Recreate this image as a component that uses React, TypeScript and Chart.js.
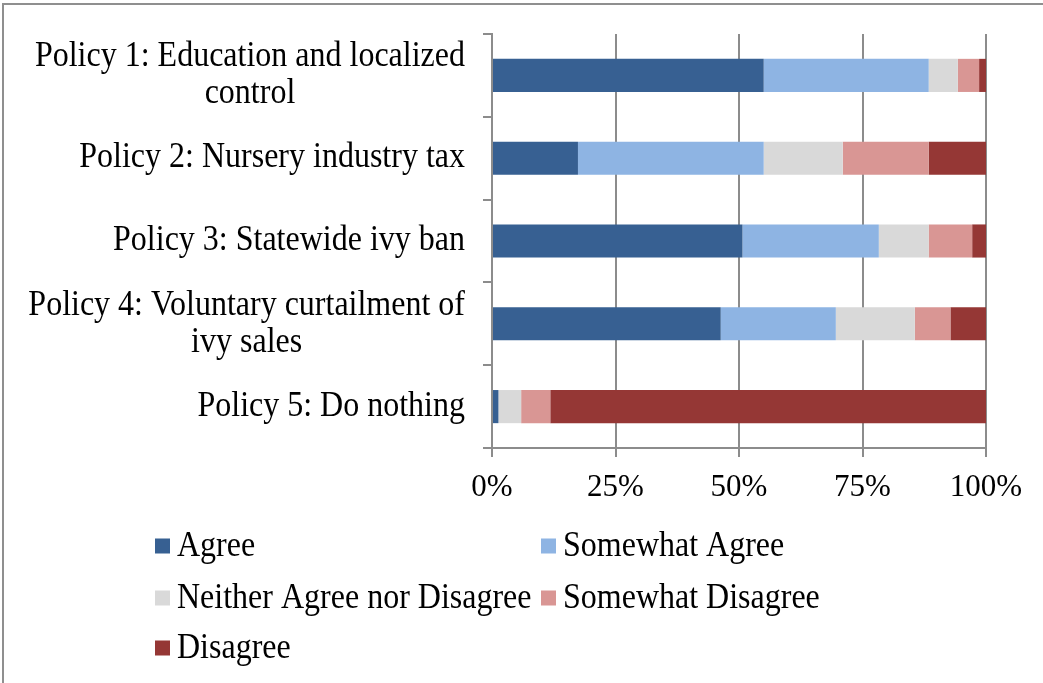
import React, { useEffect, useRef } from "react";
import { Chart, registerables } from "chart.js";

Chart.register(...registerables);

const categories: string[][] = [
  ["Policy 1: Education and localized", "control"],
  ["Policy 2: Nursery industry tax"],
  ["Policy 3: Statewide ivy ban"],
  ["Policy 4: Voluntary curtailment of", "ivy sales"],
  ["Policy 5: Do nothing"],
];
const seriesNames = [
  "Agree",
  "Somewhat Agree",
  "Neither Agree nor Disagree",
  "Somewhat Disagree",
  "Disagree",
];
const agree = [55.0, 17.4, 50.7, 46.3, 1.3];
const somewhatAgree = [33.4, 37.6, 27.6, 23.3, 0];
const neither = [5.9, 16.0, 10.1, 16.0, 4.6];
const somewhatDisagree = [4.3, 17.4, 8.8, 7.2, 5.9];
const disagree = [1.4, 11.6, 2.8, 7.2, 88.2];
const xTicks = [0, 25, 50, 75, 100];

const colors = ["#376092", "#8EB4E3", "#D9D9D9", "#D99694", "#953735"];
const FONT = '"Liberation Serif", "Times New Roman", serif';
const GRID = "#8c8c8c";
const STRETCH = 1.1;

function stretchedText(ctx: CanvasRenderingContext2D, text: string, x: number, y: number) {
  ctx.save();
  ctx.translate(x, y);
  ctx.scale(1, STRETCH);
  ctx.fillText(text, 0, 0);
  ctx.restore();
}

export default function App() {
  const ref = useRef<HTMLCanvasElement | null>(null);

  useEffect(() => {
    if (!ref.current) return;
    const seriesValues = [agree, somewhatAgree, neither, somewhatDisagree, disagree];

    const labelPlugin = {
      id: "customLabels",
      afterDraw(chart: any) {
        const ctx = chart.ctx as CanvasRenderingContext2D;
        const yScale = chart.scales.y;
        // frame
        ctx.save();
        ctx.strokeStyle = "#8f8f8f";
        ctx.lineWidth = 2;
        ctx.beginPath();
        ctx.moveTo(3, 700);
        ctx.lineTo(3, 4);
        ctx.lineTo(1100, 4);
        ctx.stroke();
        // category labels
        ctx.fillStyle = "#000";
        ctx.font = `32px ${FONT}`;
        ctx.textBaseline = "middle";
        ctx.textAlign = "center";
        const rightX = chart.chartArea.left - 27;
        const lh = 37;
        categories.forEach((lines, i) => {
          const cy = yScale.getPixelForValue(i);
          const w = Math.max(...lines.map((l) => ctx.measureText(l).width));
          const cx = rightX - w / 2;
          lines.forEach((l, j) => {
            stretchedText(ctx, l, cx, cy + (j - (lines.length - 1) / 2) * lh);
          });
        });
        // legend
        const colX = [155, 541];
        const rowY = [546, 598, 648];
        const sq = 15;
        ctx.textAlign = "left";
        ctx.textBaseline = "middle";
        seriesNames.forEach((name, k) => {
          const x = colX[k % 2];
          const y = rowY[Math.floor(k / 2)];
          ctx.fillStyle = colors[k];
          ctx.fillRect(x, y - sq / 2, sq, sq);
          ctx.fillStyle = "#000";
          stretchedText(ctx, name, x + 22, y + 1);
        });
        ctx.restore();
      },
    };

    const chart = new Chart(ref.current, {
      type: "bar",
      data: {
        labels: categories.map((c) => c.join(" ")),
        datasets: seriesNames.map((name, k) => ({
          label: name,
          data: seriesValues[k],
          backgroundColor: colors[k],
          borderWidth: 0,
          barPercentage: 0.4,
          categoryPercentage: 1,
        })),
      },
      options: {
        indexAxis: "y",
        responsive: false,
        animation: false,
        layout: { padding: { left: 0, top: 34, right: 57, bottom: 0 } },
        plugins: {
          legend: { display: false },
          tooltip: { enabled: false },
        },
        scales: {
          x: {
            stacked: true,
            min: 0,
            max: 100,
            afterFit: (s: any) => {
              s.height = 683 - 448;
            },
            afterBuildTicks: (s: any) => {
              s.ticks = xTicks.map((v) => ({ value: v }));
            },
            ticks: {
              font: { family: FONT, size: 31 },
              color: "#000",
              padding: 12,
              maxRotation: 0,
              callback: (v: any) => `${v}%`,
            },
            grid: {
              color: GRID,
              lineWidth: 2,
              tickLength: 9,
              drawTicks: true,
            },
            border: { display: true, color: GRID, width: 2 },
          },
          y: {
            stacked: true,
            afterFit: (s: any) => {
              s.width = 492;
            },
            ticks: { display: false },
            grid: {
              drawOnChartArea: false,
              drawTicks: true,
              tickLength: 9,
              color: GRID,
              lineWidth: 2,
              offset: true,
            },
            border: { display: true, color: GRID, width: 2 },
          },
        },
      },
      plugins: [labelPlugin],
    } as any);
    return () => chart.destroy();
  }, []);

  return (
    <div
      style={{
        position: "fixed",
        left: 0,
        top: 0,
        width: 1043,
        height: 683,
        background: "#fff",
      }}
    >
      <canvas ref={ref} width={1043} height={683} style={{ display: "block" }} />
    </div>
  );
}
